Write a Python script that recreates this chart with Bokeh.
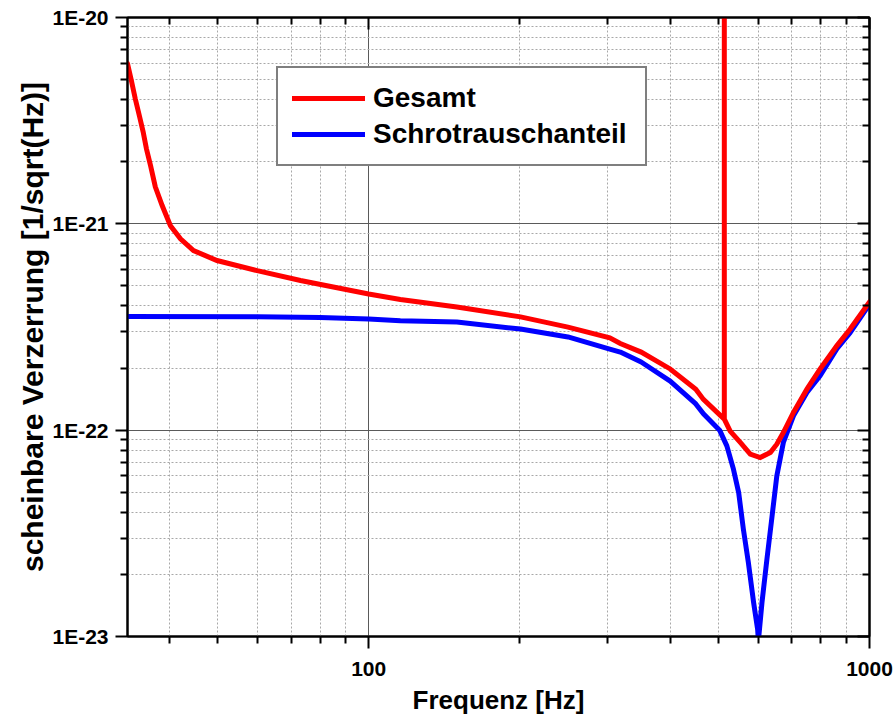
from bokeh.plotting import figure
from bokeh.models import (LogAxis, FixedTicker, CustomJSTickFormatter, Legend,
                          LegendItem, Range1d)
from bokeh.embed import file_html
from bokeh.resources import INLINE

# ---- data ----
freq_total = [33.0, 33.6, 34.2, 34.85, 35.45, 36.0, 36.7, 37.5, 38.7, 40.2, 42.1,
              44.7, 49.8, 59.9, 73.1, 85.0, 100, 115.7, 150, 201, 250, 303, 318,
              350, 400, 450, 466, 500, 513, 513, 513, 527, 552, 578, 605, 634,
              653, 673, 705, 750, 797, 861, 915, 1000]
asd_total = [5.98e-21, 4.94e-21, 4.04e-21, 3.34e-21, 2.8e-21, 2.31e-21, 1.91e-21,
             1.51e-21, 1.227e-21, 9.8e-22, 8.46e-22, 7.42e-22, 6.64e-22, 5.93e-22,
             5.31e-22, 4.94e-22, 4.57e-22, 4.3e-22, 3.95e-22, 3.54e-22, 3.16e-22,
             2.8e-22, 2.63e-22, 2.39e-22, 1.98e-22, 1.58e-22, 1.41e-22, 1.2e-22,
             1.13e-22, 1e-18, 1.13e-22, 9.9e-23, 8.72e-23, 7.65e-23, 7.37e-23,
             7.79e-23, 8.55e-23, 9.74e-23, 1.219e-22, 1.58e-22, 1.98e-22, 2.57e-22,
             3.09e-22, 4.18e-22]

freq_shot = [33, 60, 80, 100, 115.7, 150, 201, 250, 303, 318, 350, 400, 450, 466,
             502, 519, 535, 548, 560, 573, 587, 598, 600, 610, 624, 639, 653, 673,
             705, 750, 797, 861, 915, 1000]
asd_shot = [3.56e-22, 3.55e-22, 3.52e-22, 3.46e-22, 3.39e-22, 3.34e-22, 3.09e-22,
            2.83e-22, 2.47e-22, 2.39e-22, 2.14e-22, 1.73e-22, 1.34e-22, 1.2e-22,
            1.0e-22, 8.39e-23, 6.47e-23, 4.98e-23, 3.31e-23, 2.28e-23, 1.46e-23,
            1.08e-23, 9.5e-24, 1.46e-23, 2.37e-23, 3.84e-23, 6.0e-23, 8.72e-23,
            1.173e-22, 1.524e-22, 1.835e-22, 2.48e-22, 2.97e-22, 4.08e-22]

series_names = ["Gesamt", "Schrotrauschanteil"]
x_major = [100, 1000]
x_minor = [40, 50, 60, 70, 80, 90, 200, 300, 400, 500, 600, 700, 800, 900]
y_major = [1e-23, 1e-22, 1e-21, 1e-20]
y_minor = [k * 10.0 ** e for e in (-23, -22, -21) for k in range(2, 10)]
x_title = "Frequenz [Hz]"
y_title = "scheinbare Verzerrung [1/sqrt(Hz)]"

FONT = "Liberation Sans"

p = figure(width=894, height=717, x_axis_type="log", y_axis_type="log",
           x_range=Range1d(33, 1000), y_range=Range1d(1e-23, 1e-20),
           output_backend="svg", toolbar_location=None,
           min_border_left=127, min_border_right=25, min_border_top=17,
           min_border_bottom=80)
p.background_fill_color = "white"
p.border_fill_color = "white"
p.outline_line_color = "black"
p.outline_line_width = 2

xticker = FixedTicker(ticks=x_major, minor_ticks=x_minor)
yticker = FixedTicker(ticks=y_major, minor_ticks=y_minor)

p.xaxis.ticker = xticker
p.yaxis.ticker = yticker
p.xaxis.formatter = CustomJSTickFormatter(code="return tick.toFixed(0);")
p.yaxis.formatter = CustomJSTickFormatter(
    code="return '1E' + Math.round(Math.log10(tick));")

for ax in (p.xaxis[0], p.yaxis[0]):
    ax.axis_line_width = 2
    ax.major_tick_line_width = 2
    ax.minor_tick_line_width = 2
    ax.major_tick_out = 12
    ax.major_tick_in = 0
    ax.minor_tick_out = 7
    ax.minor_tick_in = 0
    ax.major_label_text_font = FONT
    ax.major_label_text_font_style = "bold"
    ax.major_label_text_font_size = "21px"
    ax.major_label_text_color = "black"
    ax.axis_label_text_font = FONT
    ax.axis_label_text_font_style = "bold"
    ax.axis_label_text_color = "black"

p.xaxis.axis_label = x_title
p.yaxis.axis_label = y_title
p.xaxis.axis_label_text_font_size = "26px"
p.yaxis.axis_label_text_font_size = "30px"
p.xaxis.major_label_standoff = 13
p.yaxis.major_label_standoff = 7
p.xaxis.axis_label_standoff = 6
p.yaxis.axis_label_standoff = 0

blank = CustomJSTickFormatter(code="return '';")
top = LogAxis(ticker=xticker, formatter=blank)
right = LogAxis(ticker=yticker, formatter=blank)
for ax in (top, right):
    ax.axis_line_width = 2
    ax.major_tick_line_width = 2
    ax.minor_tick_line_width = 2
    ax.major_tick_out = 0
    ax.major_tick_in = 12
    ax.minor_tick_out = 0
    ax.minor_tick_in = 7
    ax.major_label_text_font_size = "0px"
    ax.major_label_standoff = 0
p.add_layout(top, "above")
p.add_layout(right, "right")

for g, t in ((p.xgrid[0], xticker), (p.ygrid[0], yticker)):
    g.ticker = t
    g.grid_line_color = "#5A5A5A"
    g.grid_line_width = 1
    g.minor_grid_line_color = "#A8A8A8"
    g.minor_grid_line_width = 1
    g.minor_grid_line_dash = "2 2"

r_shot = p.line(freq_shot, asd_shot, line_color="#0000FF", line_width=5,
                line_cap="round", line_join="round")
r_total = p.line(freq_total, asd_total, line_color="#FF0000", line_width=5,
                 line_cap="round", line_join="miter")

legend = Legend(items=[LegendItem(label=series_names[0], renderers=[r_total]),
                       LegendItem(label=series_names[1], renderers=[r_shot])],
                location=(149, 470))
legend.label_text_font = FONT
legend.label_text_font_style = "bold"
legend.label_text_font_size = "28px"
legend.label_text_color = "black"
legend.glyph_width = 73
legend.glyph_height = 20
legend.label_standoff = 8
legend.label_height = 26
legend.label_width = 258
legend.padding = 14
legend.spacing = 4
legend.margin = 0
legend.border_line_color = "black"
legend.border_line_width = 2
legend.background_fill_color = "white"
legend.background_fill_alpha = 1
p.add_layout(legend)

open("out.html", "w").write(file_html(p, INLINE))
